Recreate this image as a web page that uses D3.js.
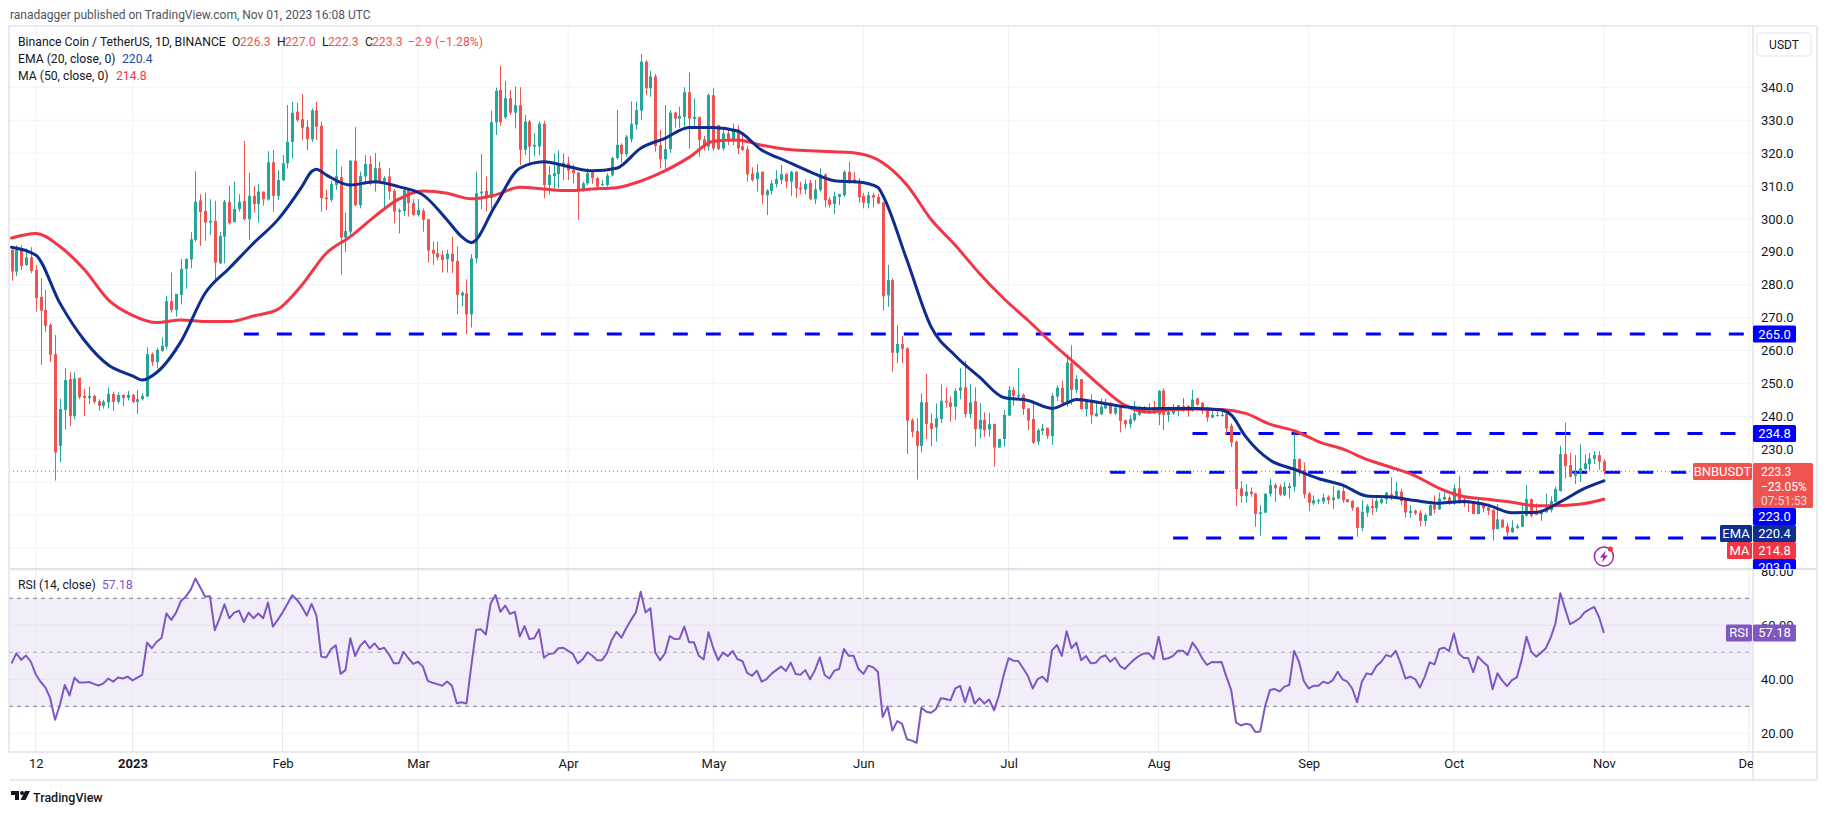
<!DOCTYPE html>
<html>
<head>
<meta charset="utf-8">
<title>BNB/USDT</title>
<script src="https://cdn.jsdelivr.net/npm/d3@7"></script>
<style>
  html, body { margin: 0; padding: 0; background: #fff; }
  svg { display: block; }
  text { font-family: Roboto, sans-serif; fill: #131722; }
</style>
</head>
<body>
<svg id="chart" width="1827" height="815"></svg>
<script>
// Daily candles, 7 Dec 2022 to 1 Nov 2023 (index 0 = 7 Dec)
var opens = [
  290.6,284,290.8,286,288.3,284.5,276.3,272.3,267.8,258.9,
  231,241.9,251.3,240.1,251.7,246.2,245.6,246.2,244.6,243.2,
  244.2,246.8,244.4,246.5,245.6,246.5,244.4,245.2,246,258.9,
  256.5,259.8,261.2,275,272.3,276.9,284.8,287.7,293.6,305.6,
  302.4,298.9,299.4,286.5,294.6,305.2,299,303,305.5,299.9,
  307,304.5,308.3,305.9,317.2,307,311.8,316.9,323.4,332.6,
  330.3,328,324.2,333,328.3,306.5,305.8,310.3,312.7,294.3,
  296.1,317.7,304.2,312.9,316.7,310.8,315.4,311.4,312.9,308.5,
  302.2,302.4,308.8,304.8,301.2,302.5,299.9,290.6,289.6,289,
  287.8,289.4,287.2,276.7,277.4,271,288,307.8,308.5,306.3,
  329.3,339.2,330.9,336.7,332.3,334.6,321,329.6,322,322,
  328.9,310.3,313,313.6,316.4,316.9,314.9,314.1,308.6,310.8,
  314.1,312.4,310.3,310.3,313.2,318.5,322.5,319.7,324.2,328.6,
  332.9,347.8,339.7,343.3,322.4,318.1,321.2,332.3,330.5,331,
  338.5,330.4,331,324.2,322,337.6,328.5,321.4,326,323.7,
  327.2,322.1,321.2,313.8,312.1,314.3,307.2,308.5,310.6,311.8,
  313.6,311.3,314.3,309.5,308.9,311,306,308.8,313.5,305.9,
  304.5,306.7,307.2,314.3,312,311.3,307,304.7,307.2,306.7,
  305,276.8,281.4,259.3,262,260.7,238.9,235.5,231,244.3,
  237.9,236.6,239.2,244.7,244.2,242.9,247.8,248.8,240.7,244.6,
  236.1,238.9,236,237.7,230.5,233.1,240.2,248,246,246.5,
  242.4,239.2,232.3,235.6,236.5,234,246,248.7,244,256.1,
  248,251.3,242.2,244.4,240,240.6,242.4,243.6,240.9,242.6,
  238.8,237.6,238.9,240.4,241.7,241.9,242.7,240.6,247.8,240.4,
  240.9,241.7,243.1,243.1,241.7,245.4,244.1,241.9,239.6,240.4,
  240.1,240.7,237.1,232.3,218.1,215.8,217.1,216.5,210.3,210.7,
  216.4,219.1,218.6,216,218.2,218.6,227,223.8,216.5,213.5,
  214.1,214.1,215.5,214.5,215,217.3,214.8,214.3,212.3,206.1,
  210.7,212.7,212.1,213.7,214.8,216.3,215.5,217.1,215,210.6,
  211.3,210.7,208.2,209.8,213,211.7,214.7,215.3,213.5,218.1,
  214.7,214,214,210.3,213.7,212.3,211.5,205.7,208.6,206.6,
  204.7,206.1,206.4,209.8,214.8,211.3,210.2,210.8,211.5,214,
  217.3,228.5,225.2,221.9,222.9,224,225.5,227,228.2,226.3
];
var highs = [
  291.4,292,292,291,291.4,286,282,278.4,268.3,264.7,
  245.3,254.6,253.4,253.4,251.7,248.3,249,246.5,245.2,245,
  248.8,247.5,247.3,246.7,247.7,246.8,248,247,261,259.4,
  260.9,264,276.6,283.7,277.2,287.8,288,296,314.5,307.5,
  308,306,305.5,296,305.8,310,311.3,307.5,323.7,314,
  310,310.6,308.3,320.6,321,314.8,319.4,334.6,335.6,335.3,
  337.9,330,333.6,335.6,329.6,308.8,311.6,321.2,315.9,301.9,
  317.9,327.9,314.4,319.4,319.2,320,317.4,313,315.4,309.1,
  303.2,309.8,309.3,306,306,303.2,299.9,293.1,293.1,290.4,
  290.6,294.6,291.6,278,281.6,289.3,314.4,319.7,312.9,332.9,
  339.9,346.5,341.9,339.2,340.2,340,331.6,330.1,326,329.6,
  329.8,316,319.9,320.8,319.9,318.9,316.4,314.1,311.3,315.4,
  314.9,312.7,311.8,313.9,318.9,333.1,323,325.5,335.7,335.7,
  350.1,348.3,345,344,327,334.6,333.1,332.6,334.1,340,
  344.5,336.6,331,325.2,338.1,339.7,328.5,327.5,327.7,329,
  328.5,325.5,322.2,315.7,316.7,314.5,309,311.8,314.8,316.4,
  314,314.6,314.6,311.3,312,311.8,311.8,315.4,313.8,306.7,
  308.3,307.7,314.8,317.4,314.3,312.3,307.9,308.3,307.9,307.7,
  305.2,286,281.9,267.7,264.4,261,239.4,239.4,247,252.9,
  240.9,243.9,249.7,248.8,246,248.5,254.6,256.9,249.7,248.8,
  244,241.2,240.9,237.7,233.1,241.9,249.2,248.8,254.6,247,
  242.4,244.5,236.3,237.7,236.5,247,249.5,250.8,258.1,261.6,
  252.5,251.3,244.9,246.7,244.7,245.4,245.4,244.4,243.4,242.9,
  239,240.4,244.7,243.1,243.1,243.9,244.7,248,248.5,242.9,
  243.7,243.4,245.6,243.4,248,245.7,244.4,242.9,241.6,241.9,
  241.7,241.7,237.8,232.6,220.3,219.4,218.4,216.8,213,216.5,
  221.1,219.8,219.3,220.1,219.8,234.8,227.2,226,217,216,
  215,216.5,216,218.8,217.6,218.8,214.8,214.5,212.5,214.5,
  213.3,215,215,215.8,217,221.4,220.1,218,215,213,
  211.7,211.5,210.5,213.5,216,216.8,217.6,216,219.3,221.9,
  215.5,214.5,214,214.7,213.7,213.5,211.7,213.3,208.6,207.6,
  208.4,207.2,213,219.1,215,213.5,211.3,216.5,215.7,218.6,
  231,238.1,228.9,228.2,231.5,228.5,228.9,229.4,229.4,227
];
var lows = [
  281.2,282.7,284.5,285.7,283.5,271.8,255.6,265.7,256.6,220.5,
  226,236,237.1,239.1,245.2,240.1,243.7,243.8,241.7,242.3,
  242.4,241.7,243.8,243,244.8,244,240.7,244.8,246,255.3,
  254.5,259.7,260.4,271.5,270.3,274.1,278.8,285,293,291.8,
  293.4,295.1,281.2,286.3,286.5,298.2,299,302.2,299.5,293.6,
  301.9,298.9,304,305.5,302.2,305.7,311.5,315.3,318.4,329.5,
  323.9,320.9,323.4,324,302.2,302.7,305.3,308.8,283,290,
  294.1,303.9,303.2,310.8,310.3,308.3,310.8,303.2,306,298.7,
  295.6,300.9,300.7,301,300.7,296.1,286.7,286,287.5,283.7,
  283.7,283.5,271,273.5,265,267,286.5,303,302.2,303.2,
  325.5,328.3,330.3,331.6,327.5,316.4,319.4,317.1,319,319.4,
  306.3,307.3,309.3,309.3,311.8,311.8,310.8,299.7,308.3,310.3,
  310.6,309.3,310,309.8,312.9,318.1,317.1,318.9,323.2,327.2,
  330.1,337.7,337.1,320.4,315.3,315,320.1,327.7,327.7,328,
  321.4,327.5,318.9,320.7,320.7,320.7,321,320.7,322.4,322.4,
  319.7,320.7,311.3,311.3,308.3,304.5,301.2,307.5,309.6,310.6,
  309.3,307,306.4,307.5,307.5,305.7,304.5,308.3,303.5,303.5,
  301.5,304.2,306.7,310.6,310.8,304.9,303.2,303.2,303.5,304.5,
  272.1,273.3,253.5,256.1,256.1,228.5,233.6,220.8,229,233.1,
  230.8,232.3,237.9,242.6,238.4,238.9,245.2,239.6,239.4,230.8,
  233.3,233.8,233.8,224.7,230.5,230.8,240.2,243.2,245.5,240.4,
  235.8,231.6,231.3,234.3,233.1,231.3,244.6,243.1,242.9,243.5,
  247,242,239.9,237.6,239.9,240.4,242.2,240.6,240.4,235.1,
  236.3,236.3,238.3,240.2,240.9,240.7,240.7,237.3,235.8,238.3,
  240.4,240,241.4,239.9,241.4,243.1,240.7,238.3,239.4,239.9,
  239.9,234.6,230.7,212.7,213.7,213.7,215.5,206.4,203.7,210.7,
  215.5,214,215.7,215.8,215,217.1,221.9,215,211.2,213,
  213.3,213.3,213.3,211.8,214.8,213.7,213.9,211.3,203.4,205.1,
  209.5,210,211,213.3,213.3,214.5,215.5,213,209.2,209.2,
  210,206.6,206.6,209.8,210.5,211.5,214.5,213,213.2,213.3,
  212.5,211,210.3,210.2,210.8,210,202.2,205.7,206.2,203.2,
  204.6,205.8,206.4,209.5,209.2,210,208.2,210.8,210.8,214,
  217.1,221.1,221.4,219.4,220.1,223.6,223.6,225.5,223.8,222.3
];
var closes = [
  284,290.6,285.7,288.3,284.2,276,272.1,267.5,258.7,229,
  242.2,251,240.1,251.5,245.8,245.6,246.2,244.4,243.2,244.4,
  246.8,244.4,246.5,245.6,246.5,244.4,245.2,246.2,258.9,256.5,
  260.2,261.4,275,272.3,277.2,284.8,287.8,293.8,305.2,302.1,
  298.9,299.4,286.7,294.8,305.2,298.7,303,305.2,299.9,307,
  304.5,308.3,306,317.2,307,311.8,316.9,323.4,332.3,330,
  327.7,324.2,333,328,306.3,306,310.6,313,294.3,296.3,
  317.7,304.2,313,316.7,310.8,315.4,311.1,312.4,308.3,302.2,
  302.7,308.8,304.8,301.2,302.7,299.7,290.4,289.4,288.3,287.5,
  289.4,287,276.9,277.6,271,288,307.8,308.3,306.3,329.4,
  338.9,329.4,336.7,332.3,334.6,321,329.6,322,322.5,328.9,
  310.3,313.4,313.9,316.9,317.1,314.7,313.9,308.8,310.8,313.9,
  312.4,309.8,310.6,313.2,318.5,322.5,319.7,325,328.9,333.1,
  347.8,339.7,343.3,322.2,318.1,321.2,332.3,330.5,331.3,338.5,
  330.5,331,324,322,337.6,321.4,321.2,326,324,327.2,
  321.4,320.9,313.6,311.8,314.1,307.2,308.6,310.8,312.1,313.6,
  311.3,314.3,309.3,308.9,310.6,306,309,313.5,305.7,304.3,
  306.9,307.5,314.3,311.6,311,306.5,304.9,307.2,306.5,304.7,
  276.5,281.4,259.3,262,260.5,238.7,235.3,231,244.3,237.7,
  236.1,239.4,244.7,244.2,242.9,247.7,248.8,240.7,244.2,236.1,
  238.9,235.8,237.7,230.5,233.1,240.4,248,246.2,246.5,242.2,
  238.7,232,235.8,236.3,234,246.2,248.7,244,256.3,248,
  251.3,242.2,244.7,240.4,240.9,242.9,243.6,240.9,242.6,238.6,
  237.6,239.1,240.9,241.9,242.4,242.4,240.9,247.7,240.4,241.4,
  242.9,243.4,241.7,241.7,245.1,243.6,241.7,239.6,240.4,240.1,
  240.4,236.3,232,217.9,215.8,217.1,216.4,210.3,210.8,216.5,
  219.1,218.1,216.2,218.6,218.8,227,223.6,216.3,213.7,214.5,
  214.5,215.3,214.5,215.3,217.4,214.5,213.9,212.1,206.1,211,
  212.7,212.1,214.3,214.8,216.8,215.8,217.3,214.2,210.8,211.2,
  210.5,208.2,210,213,211.7,215,215.5,214.3,218.1,214,
  213.5,213.6,210.3,214,212,211.3,205.6,208.7,206.2,204.7,
  206.2,206.6,210,214.8,209.8,210,211.3,212.3,214.2,217.9,
  228.5,224.9,221.6,222.9,224.2,225.7,227.2,228.2,226.2,223.3
];

// EMA 20 and MA 50, read about every five candles
var emaDays = [0,5,10,15,20,25,27,30,35,40,45,50,55,60,62,63,65,70,75,80,85,90,93,95,100,105,110,115,120,125,130,135,140,145,150,155,160,165,170,175,179,180,185,190,195,200,205,210,215,218,220,225,230,235,240,245,250,252,255,260,265,270,275,280,285,290,295,300,305,310,315,320,325,329];
var emaValues = [291.4,289,274.4,263.2,255.6,252.3,251,253.3,262.7,277.4,285,292.6,299.7,309.8,314.4,315.1,313.4,310.3,311.3,309.8,307.3,299.7,294.6,292.8,304.2,315.4,317.4,315.9,314.6,315.4,321.5,324.5,327.8,327.8,326.7,320.9,317.6,314.3,311.6,311.2,309.6,307.2,287.5,267.2,258.4,251.9,245.7,244.8,242.4,244,245.1,244.1,242.9,242.3,242.4,242.4,241.9,240.4,233.8,226.7,223.9,221.1,219.1,215.8,215.5,214.4,213.6,214.1,213,210.7,210.8,214,218.1,220.4];
var maDays = [0,5,10,15,20,25,30,35,40,45,50,55,60,65,70,75,80,85,90,95,100,105,110,115,120,125,130,135,140,145,150,155,160,165,170,175,180,185,190,195,200,205,210,215,220,225,230,235,240,245,250,255,260,265,268,270,275,280,285,290,295,300,305,310,315,320,325,329];
var maValues = [294.2,295.6,291.6,284.7,275.4,270.7,268.5,269.3,268.8,268.8,270.5,272.5,279.9,289.5,294.6,300.7,306,308.5,307.8,306.1,307.3,309.6,309.1,308.6,309.1,309.5,311.5,314.6,318.7,323.6,324,322.4,321.2,320.7,320.4,319.9,317.1,310.3,299.8,292,283.4,275.8,269.2,262.2,255.8,249.2,243.4,241.3,242.1,242.2,242.1,240.9,237.6,235.6,233.7,232.3,230.1,226.9,224.5,221.9,218.1,215.6,214.8,213.9,212.8,212.9,213.5,214.8];

// RSI 14, one value per candle
var rsiValues = [
  45.9,49.6,47.2,48.8,46.5,41.9,39.1,37,33,25,
  30.5,37.9,34,40.6,38.8,38.8,39,38.3,37.7,38.5,
  40.3,39.1,40.7,40.3,41,39.6,40.6,41.6,53.6,51.5,
  53.9,55.3,64.4,62,64.7,69,70.6,73.1,77.3,74,
  70.6,70.8,58.2,62.6,67.8,62.6,64.7,65.4,61.2,64.7,
  62.6,64.4,62.6,68.4,59.5,62,64.7,67.9,71.1,69.4,
  66.9,63.6,67.9,63.6,48.4,48.1,51.1,52.6,42,43.4,
  55.2,48.6,52.3,54.2,51.5,53.3,51.1,51.7,49.2,45.9,
  45.9,50.2,47.8,45.7,46.5,44.7,39.4,38.7,38.2,37.6,
  39.2,37.6,31.1,31.5,31,45,58.3,58.5,56.6,68.1,
  71.2,65,67.3,64.2,65,55.8,59.7,54.9,55.2,58.5,
  48,49.4,49.6,51.5,51.7,50.5,49.4,45.9,47.4,50,
  48.7,47.1,47.1,49.6,54.5,57.6,55.4,58.9,62,64.8,
  72.4,64.7,66.3,49.9,47.1,49.6,56,54.9,55,59.5,
  53.7,53.7,48.7,47.4,57.4,51.5,47.1,49.9,48.6,50.5,
  47.4,46.8,42.4,41.3,43.2,39.1,40.1,42,43.4,44.7,
  43.1,46.2,42,41.7,43.4,40,43.4,48.1,41.6,40.3,
  43.2,43.8,51.2,48.7,48.7,43.8,42,45,44.5,42.8,
  26,30,21,24.5,23.5,17.8,17.3,16.5,29.5,28,
  27.6,29,33,32.7,32.2,36.6,37.6,31.5,37,31,
  33,31,32.5,28.5,34,41.6,47.8,46.9,46.8,44.1,
  41.2,36.6,40.1,41,39.1,50.8,52.7,48.7,57.8,51.5,
  53.6,47.1,48.6,45.9,46.1,48.1,48.9,46.5,48,45,
  43.8,45.7,47.4,48.7,49.6,49.6,47.5,55.8,47.4,47.8,
  48.7,50.6,50.6,49,53.6,51.1,47.8,45.3,46.4,46.3,
  46.4,41,36,24,22.9,23.5,23.2,20.5,20.7,30,
  36,36.4,35.5,37.3,37.9,50.5,46.5,39.4,36.6,37.6,
  37.6,39.1,38.5,39.7,42.8,40,39.1,36.6,31.5,39.1,
  42.2,41.8,44.9,46.5,49,48.4,50.5,45.9,40.3,41,
  40.1,37,41,46.3,45.5,51.2,51.7,50.5,57,49.6,
  48,47.8,42.6,48.4,46.5,44.9,36.3,42.2,39.5,37.5,
  39.7,40.7,47.1,55.8,50.2,48.4,49.8,51.5,55.4,60.7,
  71.9,66,60.4,61.4,62.6,64.8,65.9,66.8,63,57.18
];

// Hand drawn horizontal levels: price and the candle each one starts at
var levelPrices = [265, 234.8, 223, 203];
var levelStarts = [48, 244, 227, 240];

var priceTicks = [340,330,320,310,300,290,280,270,260,250,240,230];
var rsiTicks = [80,60,40,20];
var timeTicks = [5,25,56,84,115,145,176,206,237,268,298,329,359];
var timeLabels = ["12","2023","Feb","Mar","Apr","May","Jun","Jul","Aug","Sep","Oct","Nov","Dec"];

var GREEN = "#26a69a", RED = "#ef5350", LINE_RED = "#f23645", NAVY = "#0d2e8f",
    BLUE = "#0000ff", PURPLE = "#7e57c2", GRID = "#f0f3fa", BORDER = "#e0e3eb";

var svg = d3.select("#chart");

// Pane sizes
var paneLeft = 9, paneRight = 1753, frameRight = 1817, paneTop = 27, paneSplit = 569, paneBottom = 752;

var x = d3.scaleLinear().domain([0, 329]).range([11.5, 1603.9]);
var y = d3.scaleLinear().domain([340, 200]).range([87.3, 547.9]);
var yRsi = d3.scaleLinear().domain([70, 30]).range([598.3, 706.3]);

var defs = svg.append("defs");
function addClip(id, x0, y0, w, h) {
  defs.append("clipPath").attr("id", id).append("rect")
    .attr("x", x0).attr("y", y0).attr("width", w).attr("height", h);
}
addClip("clipPrice", paneLeft, paneTop, paneRight - paneLeft, paneSplit - paneTop);
addClip("clipRsi", paneLeft, paneSplit, paneRight - paneLeft, paneBottom - paneSplit);
addClip("clipPriceAxis", paneRight, paneTop, frameRight - paneRight, paneSplit - paneTop);
addClip("clipRsiAxis", paneRight, paneSplit + 1, frameRight - paneRight, paneBottom - paneSplit - 1);
addClip("clipTime", paneLeft, paneBottom, paneRight - paneLeft, 30);
addClip("clipPriceTags", 1600, paneTop, frameRight - 1600, paneSplit - paneTop);

// Header line above the frame
svg.append("text").attr("x", 10).attr("y", 19).attr("font-size", 12).style("fill", "#50535e")
  .text("ranadagger published on TradingView.com, Nov 01, 2023 16:08 UTC");

// RSI band goes under the grid
svg.append("rect").attr("x", paneLeft).attr("width", paneRight - paneLeft)
  .attr("y", yRsi(70)).attr("height", yRsi(30) - yRsi(70))
  .attr("fill", PURPLE).attr("fill-opacity", 0.1);

// Grid, price pane
var gridG = svg.append("g");
gridG.selectAll(".gy").data(priceTicks.concat([220, 210, 200])).enter().append("line")
  .attr("x1", paneLeft).attr("x2", paneRight)
  .attr("y1", (d) => y(d)).attr("y2", (d) => y(d))
  .attr("stroke", GRID);
gridG.selectAll(".gx").data(timeTicks).enter().append("line")
  .attr("x1", (d) => x(d)).attr("x2", (d) => x(d))
  .attr("y1", paneTop).attr("y2", paneSplit)
  .attr("stroke", GRID);

// Grid, RSI pane
gridG.selectAll(".rx").data(timeTicks).enter().append("line")
  .attr("x1", (d) => x(d)).attr("x2", (d) => x(d))
  .attr("y1", paneSplit).attr("y2", paneBottom)
  .attr("stroke", "#e9e8f0");
gridG.selectAll(".ry").data(rsiTicks).enter().append("line")
  .attr("x1", paneLeft).attr("x2", paneRight)
  .attr("y1", (d) => yRsi(d)).attr("y2", (d) => yRsi(d))
  .attr("stroke", (d) => (d > 30 && d < 70 ? "#e6e1f0" : GRID));

// RSI limit lines
var limits = [70, 50, 30];
svg.append("g").selectAll("line").data(limits).enter().append("line")
  .attr("x1", paneLeft).attr("x2", paneRight)
  .attr("y1", (d) => yRsi(d)).attr("y2", (d) => yRsi(d))
  .attr("stroke", "#787b86").attr("stroke-opacity", (d) => (d === 50 ? 0.55 : 1))
  .attr("stroke-dasharray", "4 4");

// Price pane
var priceG = svg.append("g").attr("clip-path", "url(#clipPrice)");

levelPrices.forEach((p, k) => {
  priceG.append("line")
    .attr("x1", x(levelStarts[k])).attr("x2", paneRight)
    .attr("y1", y(p)).attr("y2", y(p))
    .attr("stroke", BLUE).attr("stroke-width", 3)
    .attr("stroke-dasharray", "15 18");
});

// Dotted last price line
priceG.append("line")
  .attr("x1", paneLeft).attr("x2", paneRight)
  .attr("y1", y(223.3)).attr("y2", y(223.3))
  .attr("stroke", RED).attr("stroke-width", 1).attr("stroke-dasharray", "1 3");

// Candles
var candles = priceG.selectAll(".candle").data(d3.range(opens.length)).enter().append("g");
candles.append("line")
  .attr("x1", (i) => Math.round(x(i)) + 0.5).attr("x2", (i) => Math.round(x(i)) + 0.5)
  .attr("y1", (i) => y(highs[i])).attr("y2", (i) => y(lows[i]))
  .attr("stroke", (i) => (closes[i] >= opens[i] ? GREEN : RED));
candles.append("rect")
  .attr("x", (i) => Math.round(x(i)) - 1).attr("width", 3)
  .attr("y", (i) => y(Math.max(opens[i], closes[i])))
  .attr("height", (i) => Math.max(1, Math.abs(y(opens[i]) - y(closes[i]))))
  .attr("fill", (i) => (closes[i] >= opens[i] ? GREEN : RED));

// Moving averages
function drawAverage(days, values, color) {
  var line = d3.line().x((d) => x(d)).y((d, k) => y(values[k])).curve(d3.curveMonotoneX);
  priceG.append("path").attr("d", line(days)).attr("fill", "none")
    .attr("stroke", color).attr("stroke-width", 3).attr("stroke-linejoin", "round").attr("stroke-linecap", "round");
}
drawAverage(maDays, maValues, LINE_RED);
drawAverage(emaDays, emaValues, NAVY);

// Lightning marker under the last candle
var bolt = svg.append("g").attr("transform", "translate(" + x(329) + "," + (y(203) + 18.5) + ")");
bolt.append("circle").attr("r", 9.5).attr("fill", "#fff").attr("stroke", "#9c27b0").attr("stroke-width", 1.5);
bolt.append("path").attr("d", "M2,-6 L-4,1 L-0.5,1 L-2,6 L4,-1 L0.5,-1 Z").attr("fill", "#9c27b0");
bolt.append("circle").attr("cx", 6.5).attr("cy", -7.5).attr("r", 2.6).attr("fill", LINE_RED);

// RSI line
var rsiLine = d3.line().x((d, i) => x(i)).y((d) => yRsi(d));
svg.append("g").attr("clip-path", "url(#clipRsi)").append("path")
  .attr("d", rsiLine(rsiValues)).attr("fill", "none")
  .attr("stroke", PURPLE).attr("stroke-width", 2).attr("stroke-linejoin", "round");

// Frame and separators
var frame = [
  [paneLeft, 26, paneLeft, paneBottom], [paneLeft, 26, frameRight, 26],
  [paneRight, 26, paneRight, 780], [frameRight, 26, frameRight, 780],
  [paneLeft, paneBottom, frameRight, paneBottom], [paneLeft, 780, frameRight, 780]
];
svg.append("g").selectAll("line").data(frame).enter().append("line")
  .attr("x1", (d) => d[0]).attr("y1", (d) => d[1]).attr("x2", (d) => d[2]).attr("y2", (d) => d[3])
  .attr("stroke", BORDER).attr("stroke-width", 1.5);
svg.append("line").attr("x1", paneLeft).attr("x2", frameRight).attr("y1", paneSplit).attr("y2", paneSplit)
  .attr("stroke", BORDER).attr("stroke-width", 2);

// Axes
var priceAxis = d3.axisRight(y).tickValues(priceTicks).tickSize(0).tickPadding(8).tickFormat(d3.format(".1f"));
var priceAxisG = svg.append("g").attr("clip-path", "url(#clipPriceAxis)")
  .append("g").attr("transform", "translate(" + paneRight + ",0)").call(priceAxis);
var rsiAxis = d3.axisRight(yRsi).tickValues(rsiTicks).tickSize(0).tickPadding(8).tickFormat(d3.format(".2f"));
var rsiAxisG = svg.append("g").attr("clip-path", "url(#clipRsiAxis)")
  .append("g").attr("transform", "translate(" + paneRight + ",0)").call(rsiAxis);
var timeAxis = d3.axisBottom(x).tickValues(timeTicks).tickSize(0).tickPadding(7)
  .tickFormat((d, k) => timeLabels[k]);
var timeAxisG = svg.append("g").attr("clip-path", "url(#clipTime)")
  .append("g").attr("transform", "translate(0," + paneBottom + ")").call(timeAxis);
[priceAxisG, rsiAxisG, timeAxisG].forEach((g) => {
  g.select(".domain").remove();
  g.selectAll("text").attr("font-size", 13).style("fill", "#131722");
  g.attr("font-family", null);
});
timeAxisG.selectAll("text").filter((d) => d === 25).attr("font-weight", "bold");

// Axis tags
function tag(parent, x0, y0, w, h, color, label, textColor) {
  parent.append("rect").attr("x", x0).attr("y", y0).attr("width", w).attr("height", h)
    .attr("rx", 1.5).attr("fill", color);
  parent.append("text").attr("x", x0 + w / 2).attr("y", y0 + h / 2 + 4.5)
    .attr("text-anchor", "middle").attr("font-size", 13)
    .style("fill", textColor || "#fff").text(label);
}
var priceTags = svg.append("g").attr("clip-path", "url(#clipPriceTags)");

var tagH = 17;
tag(priceTags, paneRight, y(265) - tagH / 2, 43, tagH, BLUE, "265.0");
tag(priceTags, paneRight, y(234.8) - tagH / 2, 43, tagH, BLUE, "234.8");
tag(priceTags, paneRight, 508, 43, tagH, BLUE, "223.0");
tag(priceTags, 1720, 525, 32, tagH, NAVY, "EMA");
tag(priceTags, paneRight, 525, 43, tagH, NAVY, emaValues[emaValues.length - 1].toFixed(1));
tag(priceTags, 1727, 542, 25, tagH, LINE_RED, "MA");
tag(priceTags, paneRight, 542, 43, tagH, LINE_RED, maValues[maValues.length - 1].toFixed(1));
tag(priceTags, paneRight, 559, 43, tagH, BLUE, "203.0");

// Last price block
priceTags.append("rect").attr("x", paneRight).attr("y", 463).attr("width", 60).attr("height", 45)
  .attr("rx", 1.5).attr("fill", RED);
var lastLines = ["223.3", "\u221223.05%", "07:51:53"];
lastLines.forEach((t, k) => {
  priceTags.append("text").attr("x", paneRight + 8).attr("y", 476 + k * 14.7).attr("font-size", 12)
    .style("fill", k === 2 ? "#fbd5d4" : "#fff").text(t);
});
tag(priceTags, 1693, 463, 59, tagH, RED, "BNBUSDT");

tag(svg, 1726, yRsi(rsiValues[329]) - tagH / 2, 26, tagH, PURPLE, "RSI");
tag(svg, paneRight, yRsi(rsiValues[329]) - tagH / 2, 43, tagH, PURPLE, "57.18");

// USDT button
svg.append("rect").attr("x", 1757).attr("y", 33).attr("width", 54).attr("height", 23)
  .attr("rx", 3).attr("fill", "#fff").attr("stroke", BORDER);
svg.append("text").attr("x", 1784).attr("y", 49).attr("text-anchor", "middle").attr("font-size", 12).text("USDT");

// Legend
function legendRow(yPos, parts) {
  parts.forEach((p) => {
    svg.append("text").attr("x", p[0]).attr("y", yPos).attr("font-size", 12.2)
      .style("fill", p[2] || "#131722").text(p[1]);
  });
}
legendRow(46, [
  [18, "Binance Coin / TetherUS, 1D, BINANCE"],
  [232, "O"], [240, "226.3", RED],
  [277, "H"], [285, "227.0", RED],
  [322, "L"], [328, "222.3", RED],
  [365, "C"], [372, "223.3", RED],
  [408, "\u22122.9 (\u22121.28%)", RED]
]);
legendRow(63, [[18, "EMA (20, close, 0)"], [122, "220.4", "#2a4aa8"]]);
legendRow(80, [[18, "MA (50, close, 0)"], [116, "214.8", LINE_RED]]);
legendRow(589, [[18, "RSI (14, close)"], [102, "57.18", PURPLE]]);

// TradingView mark at the bottom
var logo = svg.append("g").attr("transform", "translate(11,791)");
logo.append("path").attr("d", "M0,0 H8 V9 H4 V4 H0 Z").attr("fill", "#131722");
logo.append("circle").attr("cx", 11).attr("cy", 2).attr("r", 2).attr("fill", "#131722");
logo.append("path").attr("d", "M14,0 H19 L14.5,9 H9.5 Z").attr("fill", "#131722");
svg.append("text").attr("x", 33).attr("y", 802).attr("font-size", 12.5).attr("font-weight", "500").text("TradingView");
</script>
</body>
</html>
